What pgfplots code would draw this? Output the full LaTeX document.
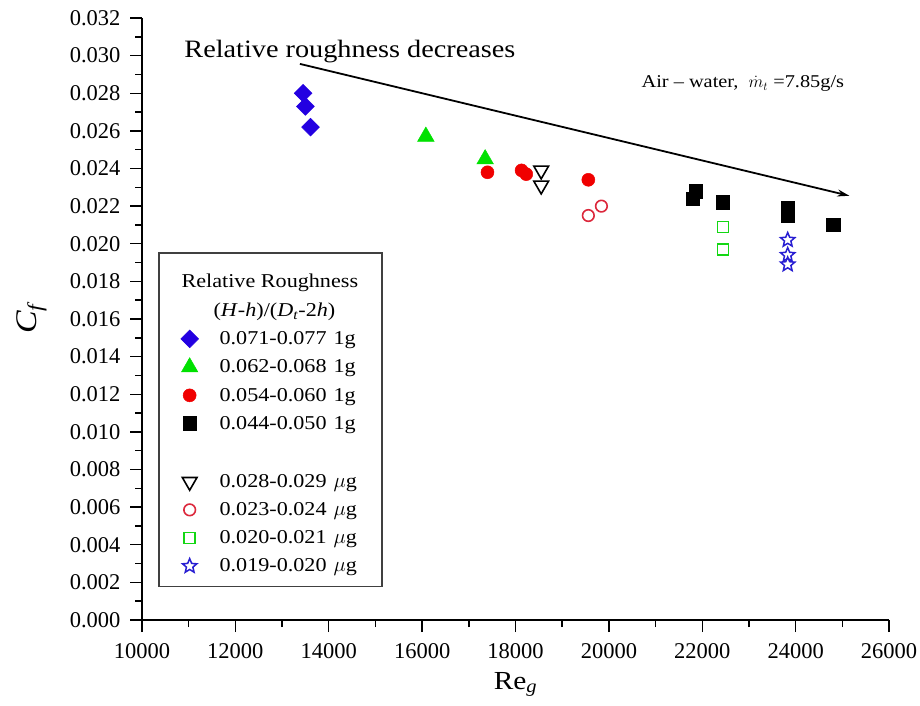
\documentclass[border=0pt]{standalone}
\usepackage{fontspec}
\setmainfont[FakeStretch=1.13]{Liberation Serif}
\newfontfamily\tickfont{Liberation Serif}
\usepackage{pgfplots}
\pgfplotsset{compat=1.18}
\usetikzlibrary{arrows.meta}
\definecolor{cblue}{RGB}{35,0,225}
\definecolor{cgreen}{RGB}{0,225,0}
\definecolor{cred}{RGB}{240,0,0}
\definecolor{ored}{RGB}{220,40,60}
\definecolor{ogreen}{RGB}{20,215,20}
\definecolor{oblue}{RGB}{40,30,210}
\pgfdeclareplotmark{ostar}{%
  \pgfpathmoveto{\pgfpointpolar{90}{\pgfplotmarksize}}%
  \pgfpathlineto{\pgfpointpolar{126}{0.45\pgfplotmarksize}}%
  \pgfpathlineto{\pgfpointpolar{162}{\pgfplotmarksize}}%
  \pgfpathlineto{\pgfpointpolar{198}{0.45\pgfplotmarksize}}%
  \pgfpathlineto{\pgfpointpolar{234}{\pgfplotmarksize}}%
  \pgfpathlineto{\pgfpointpolar{270}{0.45\pgfplotmarksize}}%
  \pgfpathlineto{\pgfpointpolar{306}{\pgfplotmarksize}}%
  \pgfpathlineto{\pgfpointpolar{342}{0.45\pgfplotmarksize}}%
  \pgfpathlineto{\pgfpointpolar{18}{\pgfplotmarksize}}%
  \pgfpathlineto{\pgfpointpolar{54}{0.45\pgfplotmarksize}}%
  \pgfpathclose
  \pgfusepathqstroke
}
\begin{document}
\begin{tikzpicture}[x=1pt,y=1pt]
\begin{axis}[
  at={(0pt,0pt)}, anchor=south west,
  scale only axis, width=747pt, height=602pt,
  xmin=10000, xmax=26000, ymin=0, ymax=0.032,
  axis lines=left, axis line style={-, line width=1.6pt},
  xtick distance=2000, ytick distance=0.002,
  minor x tick num=1, minor y tick num=1,
  tick align=outside, major tick length=12pt, minor tick length=7pt,
  every tick/.style={line width=1.4pt, black},
  scaled ticks=false,
  /pgf/number format/assume math mode=true,
  xticklabel style={/pgf/number format/fixed, /pgf/number format/1000 sep={}, yshift=-8pt},
  yticklabel style={/pgf/number format/fixed, /pgf/number format/fixed zerofill, /pgf/number format/precision=3, xshift=-6pt},
  tick label style={font=\tickfont\fontsize{22.5}{23}\selectfont},
  xlabel={Re\textsubscript{\textit{g}}},
  ylabel={\textit{C\textsubscript{f}}},
  xlabel style={at={(axis description cs:0.5,-0.107)}, anchor=center, font=\fontsize{26}{26}\selectfont},
  ylabel style={at={(axis description cs:-0.148,0.5)}, anchor=center, font=\fontsize{30}{30}\selectfont},
  legend style={at={(axis cs:10343,0.01956)}, anchor=north west, draw=black!75, line width=1.5pt,
    font=\fontsize{19.6}{21}\selectfont, row sep=9.6pt, inner xsep=22pt, inner ysep=11pt,
    /tikz/every odd column/.append style={column sep=19pt}},
  legend cell align=left,
]
\addlegendimage{empty legend}
\addlegendentry{\rule{0pt}{22pt}\hspace*{-38pt}Relative Roughness}
\addlegendimage{empty legend}
\addlegendentry{\rule[-7pt]{0pt}{1pt}\hspace*{-6pt}(\textit{H}-\textit{h})/(\textit{D}\textsubscript{\textit{t}}-2\textit{h})}

\addplot[only marks, mark=square*, mark size=6.3pt, mark options={rotate=45, fill=cblue, draw=cblue, line width=0.5pt}]
  coordinates {(13450,0.0280) (13500,0.0273) (13610,0.0262)};
\addlegendentry{\makebox[114pt][l]{0.071-0.077}1g}
\addplot[only marks, mark=triangle*, mark size=9.5pt, mark options={fill=cgreen, draw=cgreen, line width=0.5pt}]
  coordinates {(16080,0.0257) (17350,0.0245)};
\addlegendentry{\makebox[114pt][l]{0.062-0.068}1g}
\addplot[only marks, mark=*, mark size=6.5pt, mark options={fill=cred, draw=cred, line width=0.5pt}]
  coordinates {(17400,0.0238) (18130,0.0239) (18230,0.0237) (19560,0.0234)};
\addlegendentry{\makebox[114pt][l]{0.054-0.060}1g}
\addplot[only marks, mark=square*, mark size=6.8pt, mark options={fill=black, draw=black, line width=0.5pt}]
  coordinates {(21800,0.0224) (21860,0.0228) (22440,0.0222) (23830,0.0219) (23830,0.0215) (24800,0.0210)};
\addlegendentry{\makebox[114pt][l]{0.044-0.050}1g}

\addlegendimage{empty legend}
\addlegendentry{\rule{0pt}{15pt}}

\addplot[only marks, mark=triangle, mark size=8.5pt, mark options={rotate=180, draw=black, line width=1.6pt}]
  coordinates {(18550,0.0239) (18550,0.0231)};
\addlegendentry{\makebox[114pt][l]{0.028-0.029}$\mu$g}
\addplot[only marks, mark=o, mark size=5.8pt, mark options={draw=ored, line width=1.6pt}]
  coordinates {(19560,0.0215) (19840,0.0220)};
\addlegendentry{\makebox[114pt][l]{0.023-0.024}$\mu$g}
\addplot[only marks, mark=square, mark size=5.5pt, mark options={draw=ogreen, line width=1.6pt}]
  coordinates {(22440,0.0209) (22440,0.0197)};
\addlegendentry{\makebox[114pt][l]{0.020-0.021}$\mu$g}
\addplot[only marks, mark=ostar, mark size=7.5pt, mark options={draw=oblue, line width=1.5pt}]
  coordinates {(23830,0.0202) (23830,0.0194) (23830,0.0189)};
\addlegendentry{\makebox[114pt][l]{0.019-0.020}$\mu$g}

\draw[line width=1.8pt, -{Stealth[length=12pt,width=7pt]}] (axis cs:13383,0.02956) -- (axis cs:25150,0.02255);
\node[font=\fontsize{25}{25}\selectfont] at (axis cs:14454,0.0302) {Relative roughness decreases};
\node[font=\fontsize{18}{18}\selectfont] at (axis cs:22870,0.0285) {Air -- water, \ $\dot{m}_t$\ =7.85g/s};
\end{axis}
\pgfresetboundingbox
\path[use as bounding box] (-142pt,-85pt) rectangle (778pt,620pt);
\end{tikzpicture}
\end{document}
